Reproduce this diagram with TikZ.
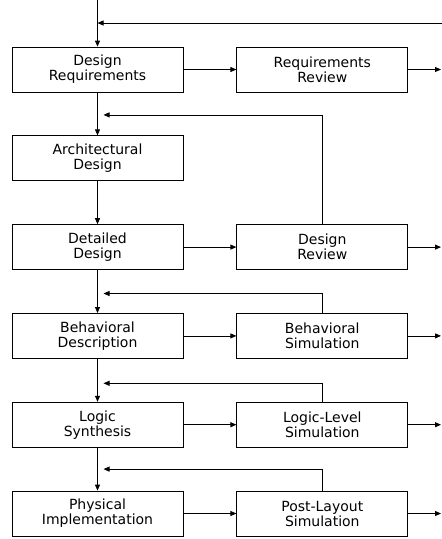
\documentclass[tikz,border=0pt]{standalone}
\usepackage{fontspec}
\setmainfont{DejaVu Sans}
\usetikzlibrary{arrows.meta, positioning, calc}

\begin{document}
\begin{tikzpicture}[
    >={Triangle[length=6pt, width=5pt]},
    line width=0.8pt,
    box/.style={draw, rectangle, minimum width=171pt, minimum height=45pt,
                align=center, font=\fontsize{14}{15}\selectfont},
    node distance=43pt and 53pt
  ]
  \useasboundingbox (0,0) rectangle (442pt,-539pt);

  \node[box] (dreq) at (97.5pt,-69.5pt) {Design\\Requirements};
  \node[box, right=of dreq] (rrev) {Requirements\\Review};
  \node[box, below=of dreq] (arch) {Architectural\\Design};
  \node[box, below=of arch] (det) {Detailed\\Design};
  \node[box, right=of det] (drev) {Design\\Review};
  \node[box, below=of det] (beh) {Behavioral\\Description};
  \node[box, right=of beh] (bsim) {Behavioral\\Simulation};
  \node[box, below=of beh] (syn) {Logic\\Synthesis};
  \node[box, right=of syn] (lsim) {Logic-Level\\Simulation};
  \node[box, below=of syn] (phys) {Physical\\Implementation};
  \node[box, right=of phys] (psim) {Post-Layout\\Simulation};

  \coordinate (start) at (97.5pt,0);
  \coordinate (ret) at (442pt,-23pt);
  \coordinate (out) at (441pt,0);

  % main flow
  \draw[->] (start) -- (dreq);
  \draw[->] (dreq) -- (arch);
  \draw[->] (arch) -- (det);
  \draw[->] (det) -- (beh);
  \draw[->] (beh) -- (syn);
  \draw[->] (syn) -- (phys);

  % to the checks
  \draw[->] (dreq) -- (rrev);
  \draw[->] (det) -- (drev);
  \draw[->] (beh) -- (bsim);
  \draw[->] (syn) -- (lsim);
  \draw[->] (phys) -- (psim);

  % out to the right
  \foreach \n in {rrev, drev, bsim, lsim, psim}
    \draw[->] (\n.east) -- (\n.east -| out);

  % feedback
  \draw[->] (ret) -- (ret -| dreq.north);
  \coordinate (fb1) at ($(dreq.south)!0.5!(arch.north)+(6pt,-1pt)$);
  \coordinate (fb2) at ($(det.south)!0.5!(beh.north)+(6pt,-2pt)$);
  \coordinate (fb3) at ($(beh.south)!0.5!(syn.north)+(6pt,-3pt)$);
  \coordinate (fb4) at ($(syn.south)!0.5!(phys.north)+(6pt,0)$);
  \draw[->] (drev.north) |- (fb1);
  \draw[->] (bsim.north) |- (fb2);
  \draw[->] (lsim.north) |- (fb3);
  \draw[->] (psim.north) |- (fb4);
\end{tikzpicture}
\end{document}
